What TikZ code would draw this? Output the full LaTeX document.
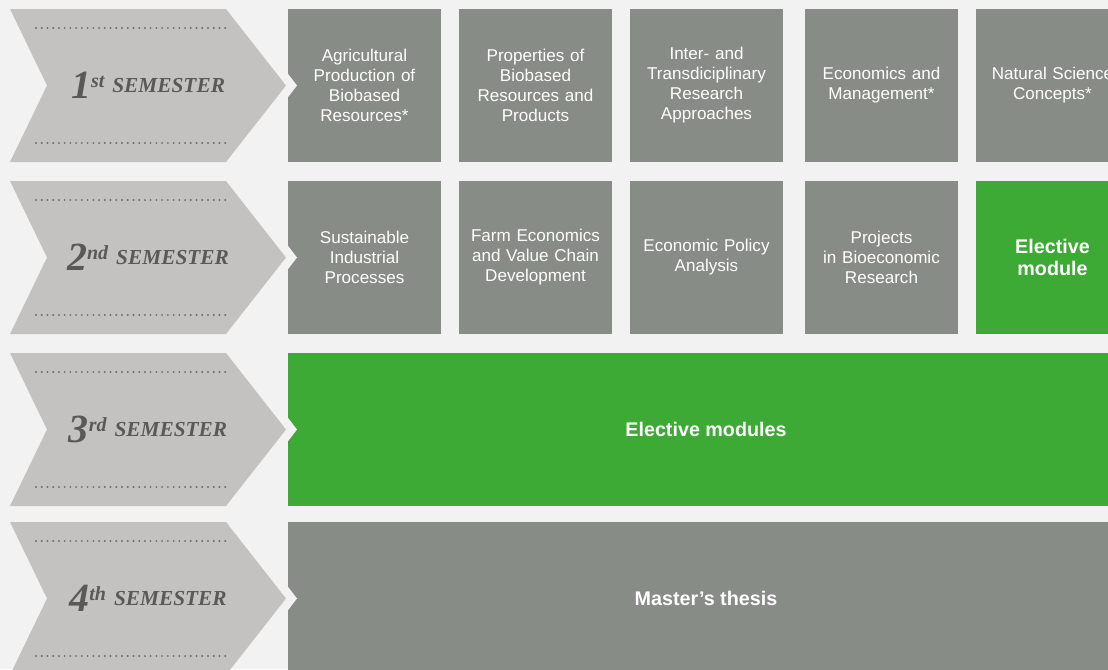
\documentclass[tikz,border=0pt]{standalone}
\usepackage{fontspec}
\setmainfont{Liberation Sans}
\newfontfamily\semfont{Liberation Serif}
\usetikzlibrary{positioning}

\definecolor{bggray}{HTML}{F2F2F2}
\definecolor{chevgray}{HTML}{C3C2C0}
\definecolor{modgray}{HTML}{878C87}
\definecolor{modgreen}{HTML}{3DAA35}
\definecolor{semtext}{HTML}{595959}
\definecolor{dotgray}{HTML}{6E6E6E}

\tikzstyle{module} = [rectangle, minimum width=114.75pt, minimum height=114.75pt, text width=110pt, align=center, inner sep=0pt, outer sep=0pt, fill=modgray, text=white, font=\fontsize{12.8}{15}\selectfont]
\tikzstyle{module_1} = [module, fill=modgreen, font=\fontsize{14.8}{16.5}\selectfont\bfseries]
\tikzstyle{wide} = [rectangle, minimum width=627pt, minimum height=114.75pt, inner sep=0pt, outer sep=0pt, text=white, font=\fontsize{14.8}{16.5}\selectfont\bfseries]
\tikzstyle{semlabel} = [anchor=base, inner sep=0pt, text=semtext, font=\semfont\bfseries\itshape\fontsize{16}{16}\selectfont]
\tikzstyle{dots} = [dotgray, line width=1.6pt, line cap=round, dash pattern=on 0pt off 4.3pt]

\newcommand{\semname}[2]{{\fontsize{30}{30}\selectfont #1}\raisebox{8.2pt}{\fontsize{15}{15}\selectfont #2}\hspace{6pt}\raisebox{4pt}{SEMESTER}}

\begin{document}
\begin{tikzpicture}[x=0.75pt, y=-0.75pt]
    \fill[bggray] (0,0) rectangle (1108,669);
    \useasboundingbox (0,0) rectangle (1108,669);
    \begin{scope}
    \clip (0,0) rectangle (1108,669);

    % semester arrows
    \foreach \t/\n/\s in {9/1/st, 181/2/nd, 353/3/rd, 522/4/th} {
        \fill[chevgray] (10,\t) -- (226,\t) -- (286,\t+76.5) -- (226,\t+153) -- (10,\t+153) -- (47,\t+76.5) -- cycle;
        \draw[dots] (36,\t+19) -- (226,\t+19);
        \draw[dots] (36,\t+134) -- (226,\t+134);
        \node (sem\n) [semlabel] at (148,\t+89) {\semname{\n}{\s}};
    }

    % 1st semester
    \node (m11) [module] at (364.5,85.5) {Agricultural\\Production of\\Biobased\\Resources*};
    \node (m12) [module, right=13.5pt of m11] {Properties of\\Biobased\\Resources and\\Products};
    \node (m13) [module, right=13.5pt of m12] {Inter- and\\Transdiciplinary\\Research\\Approaches};
    \node (m14) [module, right=16.5pt of m13] {Economics and\\Management*};
    \node (m15) [module, right=13.5pt of m14] {Natural Science\\Concepts*};

    % 2nd semester
    \node (m21) [module] at (364.5,257.5) {Sustainable\\Industrial\\Processes};
    \node (m22) [module, right=13.5pt of m21] {Farm Economics\\and Value Chain\\Development};
    \node (m23) [module, right=13.5pt of m22] {Economic Policy\\Analysis};
    \node (m24) [module, right=16.5pt of m23] {Projects\\in Bioeconomic\\Research};
    \node (m25) [module_1, right=13.5pt of m24] {Elective\\module};

    % 3rd and 4th semester
    \node (m3) [wide, fill=modgreen] at (706,429.5) {Elective modules};
    \node (m4) [wide, fill=modgray] at (706,598.5) {Master’s thesis};

    % notches between arrows and modules
    \foreach \c in {85.5, 257.5, 429.5, 598.5}
        \fill[bggray] (287,\c-13) -- (297,\c) -- (287,\c+13) -- cycle;
    \end{scope}
\end{tikzpicture}
\end{document}
